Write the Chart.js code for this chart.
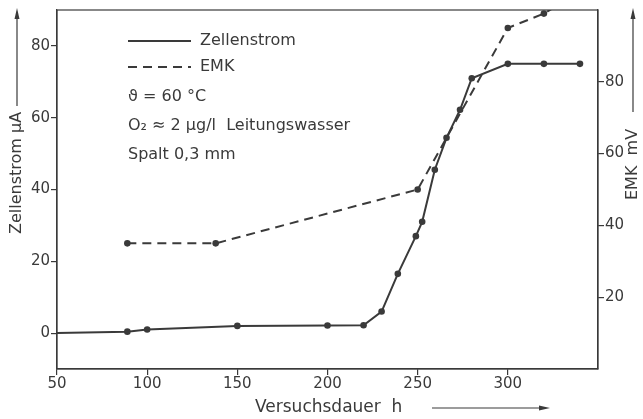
<!DOCTYPE html>
<html>
<head>
<meta charset="utf-8">
<script src="https://cdn.jsdelivr.net/npm/chart.js@4.4.0/dist/chart.umd.min.js"></script>
<style>
  html, body { margin: 0; padding: 0; background: #fff; }
  #chart { display: block; }
</style>
</head>
<body>
<canvas id="chart" width="643" height="419"></canvas>
<script>
// Versuchsdauer in h
const time_current = [50, 89, 100, 150, 200, 220, 230, 239, 249, 252.5, 259.5, 266, 273.5, 280, 300, 320, 340];
// Zellenstrom in µA
const cell_current = [0, 0.4, 1, 2, 2.1, 2.2, 6, 16.5, 27, 31, 45.5, 54.4, 62.2, 71, 75, 75, 75];
// EMK in mV
const time_emk = [89, 138, 250, 300, 320, 340];
const emk_values = [35, 35, 50, 95, 99, 105];

const x_ticks = [50, 100, 150, 200, 250, 300];
const current_ticks = [0, 20, 40, 60, 80];
const emk_ticks = [20, 40, 60, 80];

const ink = "#3a3a3a";
const font_name = "'DejaVu Sans', sans-serif";

const to_points = (xs, ys) => xs.map((x, i) => ({ x: x, y: ys[i] }));

const draw_arrow = (ctx, x1, y1, x2, y2) => {
    const ang = Math.atan2(y2 - y1, x2 - x1);
    ctx.beginPath();
    ctx.moveTo(x1, y1);
    ctx.lineTo(x2 - 8 * Math.cos(ang), y2 - 8 * Math.sin(ang));
    ctx.stroke();
    ctx.beginPath();
    ctx.moveTo(x2, y2);
    ctx.lineTo(x2 - 11 * Math.cos(ang) + 2.5 * Math.sin(ang), y2 - 11 * Math.sin(ang) - 2.5 * Math.cos(ang));
    ctx.lineTo(x2 - 11 * Math.cos(ang) - 2.5 * Math.sin(ang), y2 - 11 * Math.sin(ang) + 2.5 * Math.cos(ang));
    ctx.closePath();
    ctx.fill();
};

const annotate = {
    id: "annotate",
    afterDraw(chart) {
        const ctx = chart.ctx;
        const a = chart.chartArea;
        ctx.save();
        ctx.strokeStyle = ink;
        ctx.fillStyle = ink;
        ctx.lineWidth = 1.2;
        ctx.strokeRect(a.left, a.top, a.right - a.left, a.bottom - a.top);

        // legend block
        ctx.lineWidth = 2;
        ctx.beginPath();
        ctx.moveTo(128, 41);
        ctx.lineTo(191, 41);
        ctx.stroke();
        ctx.setLineDash([9, 6]);
        ctx.beginPath();
        ctx.moveTo(128, 67);
        ctx.lineTo(191, 67);
        ctx.stroke();
        ctx.setLineDash([]);

        ctx.font = "16px " + font_name;
        ctx.textBaseline = "middle";
        ctx.textAlign = "left";
        ctx.fillText("Zellenstrom", 200, 41);
        ctx.fillText("EMK", 200, 67);
        ctx.fillText("\u03d1 = 60 \u00b0C", 128, 97);
        ctx.fillText("O\u2082 \u2248 2 \u00b5g/l  Leitungswasser", 128, 126);
        ctx.fillText("Spalt 0,3 mm", 128, 155);

        // axis titles with arrows
        ctx.lineWidth = 1.2;
        ctx.save();
        ctx.translate(17, 234);
        ctx.rotate(-Math.PI / 2);
        ctx.fillText("Zellenstrom \u00b5A", 0, 0);
        ctx.restore();
        draw_arrow(ctx, 17, 106, 17, 8);

        ctx.save();
        ctx.translate(633, 200);
        ctx.rotate(-Math.PI / 2);
        ctx.fillText("EMK  mV", 0, 0);
        ctx.restore();
        draw_arrow(ctx, 633, 112, 633, 8);

        ctx.font = "17px " + font_name;
        ctx.fillText("Versuchsdauer  h", 255, 408);
        draw_arrow(ctx, 432, 408, 550, 408);
        ctx.restore();
    }
};

const axis_grid = { display: true, drawOnChartArea: false, drawTicks: true, tickLength: 6, color: ink, lineWidth: 1.2 };
const axis_border = { display: true, color: ink, width: 1.2 };
const tick_font = { family: font_name, size: 15 };

new Chart(document.getElementById("chart"), {
    type: "line",
    data: {
        datasets: [
            {
                label: "Zellenstrom",
                data: to_points(time_current, cell_current),
                yAxisID: "y",
                borderColor: ink,
                backgroundColor: ink,
                borderWidth: 2,
                pointRadius: time_current.map((t, i) => i === 0 ? 0 : 3.3),
                pointBorderWidth: 0,
                tension: 0
            },
            {
                label: "EMK",
                data: to_points(time_emk, emk_values),
                yAxisID: "y2",
                borderColor: ink,
                backgroundColor: ink,
                borderWidth: 2,
                borderDash: [9, 6],
                pointRadius: 3.3,
                pointBorderWidth: 0,
                tension: 0
            }
        ]
    },
    options: {
        responsive: false,
        animation: false,
        events: [],
        layout: { padding: { top: 9, left: 0, right: 0, bottom: 0 } },
        plugins: { legend: { display: false }, tooltip: { enabled: false } },
        scales: {
            x: {
                type: "linear",
                min: 50,
                max: 350,
                afterBuildTicks: (axis) => { axis.ticks = x_ticks.map(v => ({ value: v })); },
                afterFit: (axis) => { axis.height = 50; },
                grid: axis_grid,
                border: axis_border,
                ticks: { color: ink, font: tick_font, padding: 0, maxRotation: 0 }
            },
            y: {
                position: "left",
                min: -10,
                max: 90,
                afterBuildTicks: (axis) => { axis.ticks = current_ticks.map(v => ({ value: v })); },
                afterFit: (axis) => { axis.width = 57; },
                grid: axis_grid,
                border: axis_border,
                ticks: { color: ink, font: tick_font, padding: 1 }
            },
            y2: {
                position: "right",
                min: 0,
                max: 100,
                afterBuildTicks: (axis) => { axis.ticks = emk_ticks.map(v => ({ value: v })); },
                afterFit: (axis) => { axis.width = 45; },
                grid: axis_grid,
                border: axis_border,
                ticks: { color: ink, font: tick_font, padding: 1 }
            }
        }
    },
    plugins: [annotate]
});
</script>
</body>
</html>
